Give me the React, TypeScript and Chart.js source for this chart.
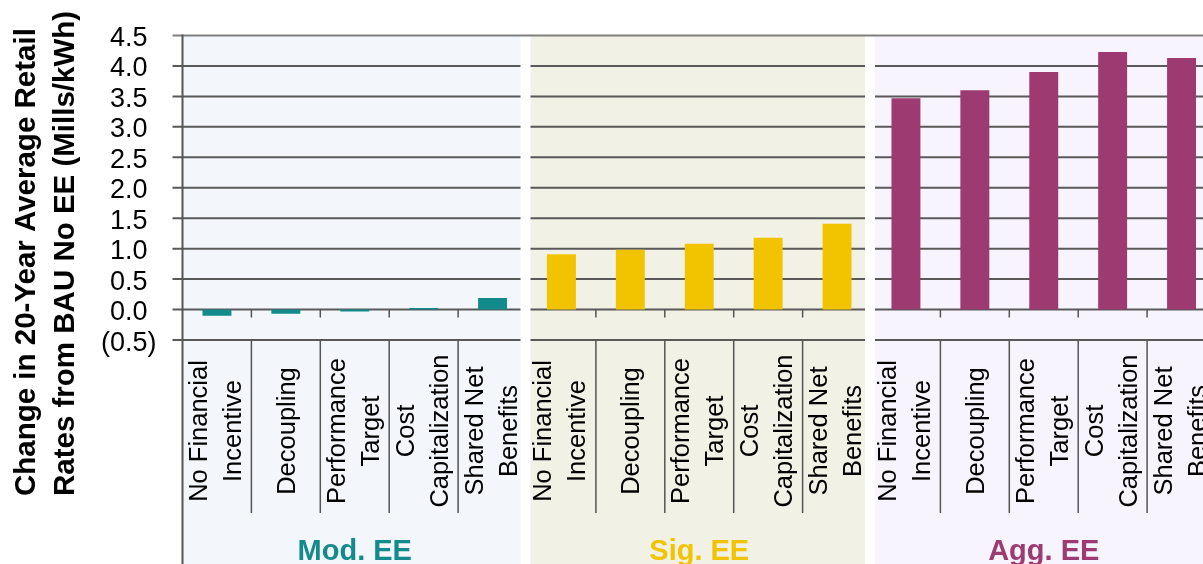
import React, { useEffect, useRef } from "react";
import { Chart, registerables } from "chart.js";

Chart.register(...registerables);

// ---------- data ----------
const groups = ["Mod. EE", "Sig. EE", "Agg. EE"];
const categories: string[][] = [
  ["No Financial", "Incentive"],
  ["Decoupling"],
  ["Performance", "Target"],
  ["Cost", "Capitalization"],
  ["Shared Net", "Benefits"],
];
const modValues = [-0.1, -0.07, -0.03, 0.025, 0.19];
const sigValues = [0.91, 0.98, 1.08, 1.18, 1.41];
const aggValues = [3.47, 3.6, 3.9, 4.23, 4.13];
const yTicks = [-0.5, 0.0, 0.5, 1.0, 1.5, 2.0, 2.5, 3.0, 3.5, 4.0, 4.5];
const yTitleLines = ["Change in 20-Year Average Retail", "Rates from BAU No EE (Mills/kWh)"];

// ---------- styles ----------
const groupColors = ["#138a8b", "#f2c400", "#9c3a71"];
const groupBackgrounds = ["#f3f7fc", "#f1f1e5", "#f7f4fd"];
const FONT = '"Liberation Sans", Arial, Helvetica, sans-serif';

const groupValues = [modValues, sigValues, aggValues];
const labels = groups.flatMap((g) => categories.map((c) => `${g} ${c.join(" ")}`));
const values = groupValues.flat();
const barColors = groups.flatMap((_, gi) => categories.map(() => groupColors[gi]));

function panelBounds(chart: any, gi: number) {
  const x = chart.scales.x;
  const w = x.getPixelForValue(1) - x.getPixelForValue(0);
  const n = categories.length;
  const left = x.getPixelForValue(gi * n) - w / 2;
  const right = left + n * w;
  const l = gi === 0 ? chart.chartArea.left : left + 3.5;
  const r = gi === groups.length - 1 ? chart.width : right - 6.5;
  return { l, r, left, right, w };
}

const panelPlugin = {
  id: "panels",
  beforeDraw(chart: any) {
    const { ctx, chartArea } = chart;
    ctx.save();
    ctx.fillStyle = "#ffffff";
    ctx.fillRect(0, 0, chart.width, chart.height);
    groups.forEach((_, gi) => {
      const { l, r } = panelBounds(chart, gi);
      ctx.fillStyle = groupBackgrounds[gi];
      ctx.fillRect(l, chartArea.top, r - l, chart.height - chartArea.top);
    });
    ctx.restore();
  },
  beforeDatasetsDraw(chart: any) {
    const { ctx, chartArea } = chart;
    const x = chart.scales.x;
    const y = chart.scales.y;
    const n = categories.length;
    ctx.save();
    // gridlines, interrupted between panels
    ctx.strokeStyle = "#595959";
    ctx.lineWidth = 2;
    yTicks.slice(0, -1).forEach((v) => {
      const py = y.getPixelForValue(v);
      groups.forEach((_, gi) => {
        const { l, r } = panelBounds(chart, gi);
        ctx.beginPath();
        ctx.moveTo(gi === 0 ? chartArea.left - 10 : l, py);
        ctx.lineTo(r, py);
        ctx.stroke();
      });
    });
    // top line, continuous
    const topY = y.getPixelForValue(yTicks[yTicks.length - 1]);
    ctx.strokeStyle = "#808080";
    ctx.lineWidth = 2;
    ctx.beginPath();
    ctx.moveTo(chartArea.left - 10, topY);
    ctx.lineTo(chart.width, topY);
    ctx.stroke();
    // category separators
    const w = x.getPixelForValue(1) - x.getPixelForValue(0);
    const zeroY = y.getPixelForValue(0);
    const botY = y.getPixelForValue(yTicks[0]);
    ctx.strokeStyle = "#555555";
    ctx.lineWidth = 1.5;
    for (let k = 1; k < labels.length; k++) {
      if (k % n === 0) continue;
      const px = x.getPixelForValue(k) - w / 2;
      ctx.beginPath();
      ctx.moveTo(px, zeroY);
      ctx.lineTo(px, zeroY + 8);
      ctx.moveTo(px, botY);
      ctx.lineTo(px, 513);
      ctx.stroke();
    }
    // y axis line
    ctx.strokeStyle = "#555555";
    ctx.lineWidth = 2;
    ctx.beginPath();
    ctx.moveTo(chartArea.left, topY - 1);
    ctx.lineTo(chartArea.left, chart.height);
    ctx.stroke();
    ctx.restore();
  },
  afterDraw(chart: any) {
    const { ctx, chartArea } = chart;
    const x = chart.scales.x;
    const y = chart.scales.y;
    const n = categories.length;
    ctx.save();
    // y tick labels
    ctx.fillStyle = "#000000";
    ctx.font = `27px ${FONT}`;
    ctx.textAlign = "right";
    ctx.textBaseline = "alphabetic";
    const labelRight = chartArea.left - 35;
    const paren = ctx.measureText(")").width;
    yTicks.forEach((v) => {
      const py = y.getPixelForValue(v);
      const txt = v < 0 ? `(${Math.abs(v).toFixed(1)})` : v.toFixed(1);
      ctx.fillText(txt, v < 0 ? labelRight + paren : labelRight, py + 10.5);
    });
    // y title
    ctx.font = `bold 29.5px ${FONT}`;
    ctx.textAlign = "left";
    const titleBaselines = [35, 74];
    yTitleLines.forEach((line, j) => {
      ctx.save();
      ctx.translate(titleBaselines[j], 496);
      ctx.rotate(-Math.PI / 2);
      ctx.fillText(line, 0, 0);
      ctx.restore();
    });
    // category labels
    ctx.font = `25.5px ${FONT}`;
    ctx.textAlign = "center";
    labels.forEach((_, i) => {
      const lines = categories[i % n];
      const cx = x.getPixelForValue(i);
      lines.forEach((line, j) => {
        const off = 9 + (j - (lines.length - 1) / 2) * 34 - (lines.length > 1 ? 2 : 0);
        ctx.save();
        ctx.translate(cx + off, 431);
        ctx.rotate(-Math.PI / 2);
        ctx.fillText(line, 0, 0);
        ctx.restore();
      });
    });
    // group labels
    ctx.font = `bold 29px ${FONT}`;
    groups.forEach((g, gi) => {
      const { left, right } = panelBounds(chart, gi);
      ctx.fillStyle = groupColors[gi];
      ctx.fillText(g, (left + right) / 2, 560);
    });
    ctx.restore();
  },
};

export default function App() {
  const ref = useRef<HTMLCanvasElement | null>(null);
  useEffect(() => {
    if (!ref.current) return;
    const chart = new Chart(ref.current, {
      type: "bar",
      data: {
        labels,
        datasets: [
          {
            data: values,
            backgroundColor: barColors,
            borderWidth: 0,
            barPercentage: 0.42,
            categoryPercentage: 1,
          },
        ],
      },
      options: {
        responsive: false,
        maintainAspectRatio: false,
        animation: false,
        devicePixelRatio: 1,
        layout: { padding: { left: 182.5, top: 35.5, right: 4, bottom: 224 } },
        plugins: { legend: { display: false }, tooltip: { enabled: false } },
        scales: {
          x: { type: "category", display: false, offset: true },
          y: { type: "linear", display: false, min: -0.5, max: 4.5 },
        },
      },
      plugins: [panelPlugin],
    });
    return () => chart.destroy();
  }, []);
  return (
    <div
      style={{
        position: "fixed",
        left: 0,
        top: 0,
        width: 1203,
        height: 564,
        overflow: "hidden",
        background: "#fff",
      }}
    >
      <canvas ref={ref} width={1220} height={564} style={{ display: "block", width: 1220, height: 564 }} />
    </div>
  );
}
